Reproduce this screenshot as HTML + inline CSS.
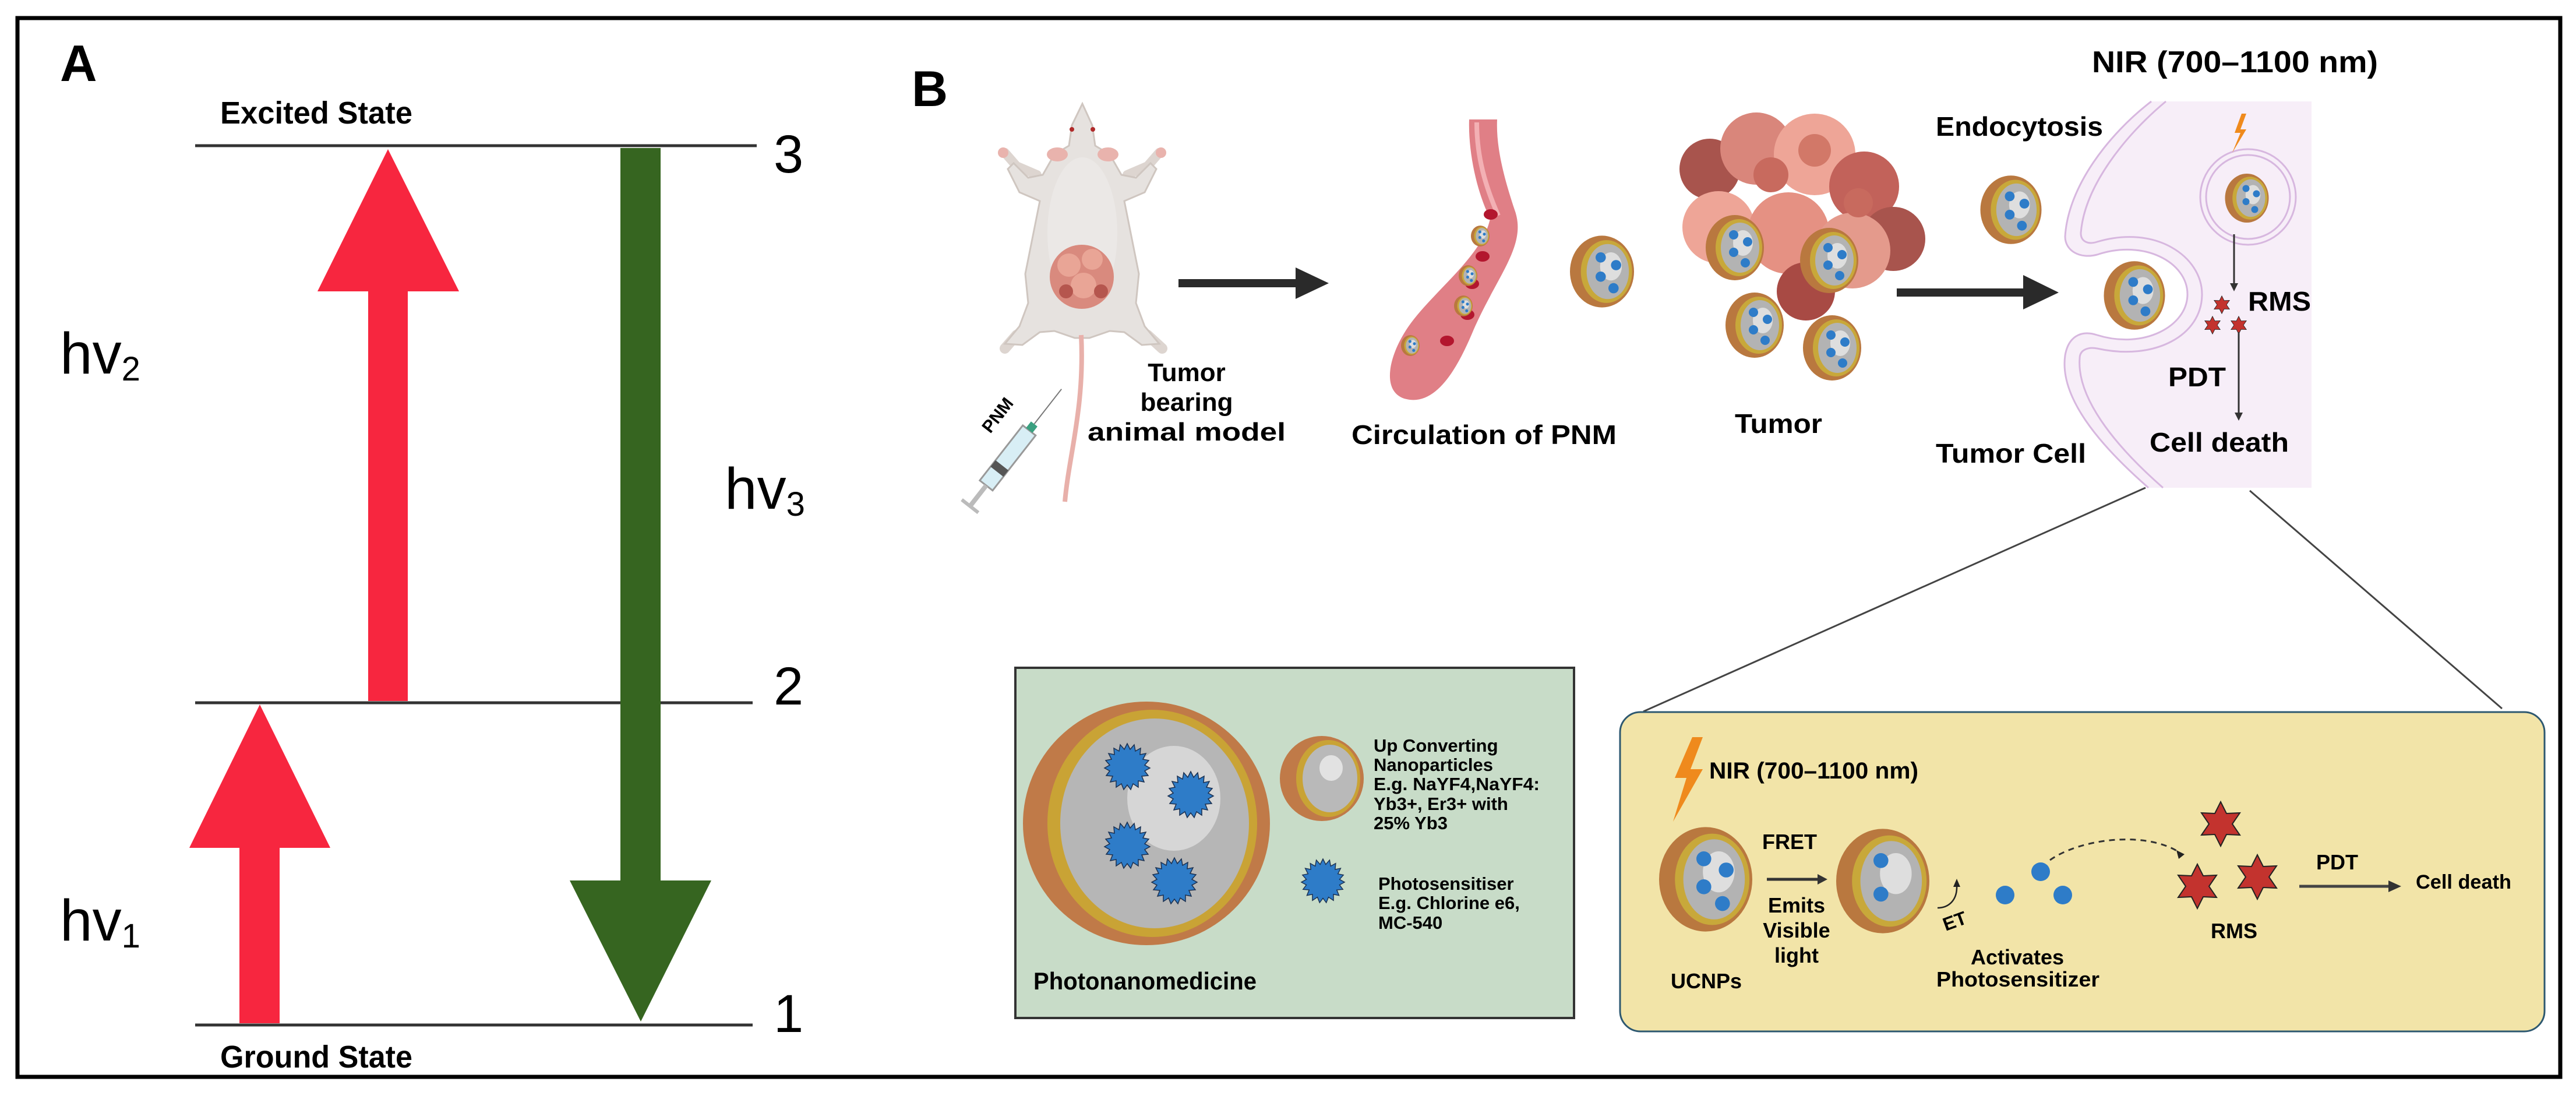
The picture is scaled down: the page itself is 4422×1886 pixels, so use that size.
<!DOCTYPE html>
<html><head><meta charset="utf-8"><style>
html,body{margin:0;padding:0;background:#fff}
svg{display:block}
text{font-family:"Liberation Sans",sans-serif}
.b{font-weight:bold}
</style></head><body>
<svg width="4422" height="1886" viewBox="0 0 4422 1886" xmlns="http://www.w3.org/2000/svg">
<defs>
<g id="np">
<ellipse rx="50" ry="56" fill="#b9783f"/>
<ellipse cx="7" rx="40" ry="49" fill="#c8a83a"/>
<ellipse cx="9" rx="33" ry="43" fill="#b3b3b3"/>
<ellipse cx="14" cy="-8" rx="17" ry="22" fill="#dedede"/>
<circle cx="-2" cy="-22" r="8" fill="#2e7cc8"/>
<circle cx="22" cy="-10" r="8" fill="#2e7cc8"/>
<circle cx="-2" cy="8" r="8" fill="#2e7cc8"/>
<circle cx="18" cy="26" r="8" fill="#2e7cc8"/>
</g>
<polygon id="star" points="0,-38 10,-18 33,-19 20,0 33,19 10,18 0,38 -10,18 -33,19 -20,0 -33,-19 -10,-18" fill="#c3332e" stroke="#222" stroke-width="2"/>
<polygon id="spk" points="0,-40 5,-30 12,-38 14,-27 23,-32 22,-21 32,-23 27,-13 37,-11 30,-3 39,2 30,7 36,15 25,16 29,26 19,24 19,35 10,29 6,39 0,31 -6,39 -10,29 -19,35 -19,24 -29,26 -25,16 -36,15 -30,7 -39,2 -30,-3 -37,-11 -27,-13 -32,-23 -22,-21 -23,-32 -14,-27 -12,-38 -5,-30" fill="#2e7cc8" stroke="#1b3050" stroke-width="1.5"/>
</defs>

<rect x="30" y="31" width="4365" height="1817" fill="none" stroke="#000" stroke-width="7"/>

<!-- ===== Panel A ===== -->
<text x="103" y="139" class="b" font-size="88">A</text>
<text x="378" y="212" class="b" font-size="54" textLength="330" lengthAdjust="spacingAndGlyphs">Excited  State</text>
<text x="378" y="1832" class="b" font-size="54" textLength="330" lengthAdjust="spacingAndGlyphs">Ground  State</text>
<line x1="335" y1="250" x2="1299" y2="250" stroke="#333" stroke-width="5"/>
<line x1="335" y1="1206" x2="1292" y2="1206" stroke="#333" stroke-width="5"/>
<line x1="335" y1="1759" x2="1292" y2="1759" stroke="#333" stroke-width="5"/>
<text x="1328" y="296" font-size="92">3</text>
<text x="1328" y="1209" font-size="92">2</text>
<text x="1328" y="1771" font-size="92">1</text>
<polygon points="632,1203 632,500 545,500 666,256 788,500 700,500 700,1203" fill="#f7263f"/>
<polygon points="411,1756 411,1455 325,1455 446,1209 567,1455 480,1455 480,1756" fill="#f7263f"/>
<polygon points="1065,254 1134,254 1134,1511 1221,1511 1100,1753 978,1511 1065,1511" fill="#366520"/>
<text x="103" y="641" font-size="100">hv<tspan font-size="58" dy="12">2</tspan></text>
<text x="1244" y="873" font-size="100">hv<tspan font-size="58" dy="12">3</tspan></text>
<text x="103" y="1614" font-size="100">hv<tspan font-size="58" dy="12">1</tspan></text>

<!-- ===== Panel B ===== -->
<text x="1565" y="182" class="b" font-size="86">B</text>

<!-- mouse -->
<g>
<path d="M1780,300 L1745,285 L1725,262" fill="none" stroke="#ddd5d0" stroke-width="16" stroke-linecap="round"/>
<path d="M1935,300 L1970,285 L1990,262" fill="none" stroke="#ddd5d0" stroke-width="16" stroke-linecap="round"/>
<path d="M1780,555 L1745,575 L1725,598" fill="none" stroke="#ddd5d0" stroke-width="18" stroke-linecap="round"/>
<path d="M1935,555 L1970,575 L1995,598" fill="none" stroke="#ddd5d0" stroke-width="18" stroke-linecap="round"/>
<circle cx="1722" cy="262" r="9" fill="#e9b3ad"/>
<circle cx="1993" cy="262" r="9" fill="#e9b3ad"/>
<path d="M1858,178 L1875,215 L1880,250 L1905,265 L1925,300 L1950,305 L1975,280 L1985,290 L1965,330 L1930,345 L1945,420 L1955,470 L1950,520 L1965,560 L1990,590 L1960,592 L1930,570 L1905,568 L1870,580 L1845,580 L1810,568 L1785,570 L1755,592 L1725,590 L1750,560 L1765,520 L1760,470 L1770,420 L1785,345 L1750,330 L1730,290 L1740,280 L1765,305 L1790,300 L1810,265 L1835,250 L1840,215 Z" fill="#e6e2df" stroke="#cfc6c0" stroke-width="3"/>
<ellipse cx="1858" cy="400" rx="60" ry="130" fill="#ebe8e6"/>
<ellipse cx="1815" cy="265" rx="18" ry="12" fill="#e9b3ad"/>
<ellipse cx="1902" cy="265" rx="18" ry="12" fill="#e9b3ad"/>
<circle cx="1840" cy="222" r="4" fill="#b02a2a"/>
<circle cx="1876" cy="222" r="4" fill="#b02a2a"/>
<circle cx="1857" cy="475" r="55" fill="#d98a7e"/>
<circle cx="1835" cy="455" r="20" fill="#e9a596"/>
<circle cx="1875" cy="445" r="18" fill="#e9a596"/>
<circle cx="1860" cy="490" r="22" fill="#e9a596"/>
<circle cx="1830" cy="500" r="12" fill="#b5564e"/>
<circle cx="1890" cy="500" r="12" fill="#b5564e"/>
<path d="M1856,575 C1862,700 1835,780 1828,861" fill="none" stroke="#e8b0aa" stroke-width="8"/>
</g>
<g transform="translate(1736,778) rotate(-52)">
<rect x="-70" y="-14" width="120" height="28" fill="#d8eef5" stroke="#999" stroke-width="3"/>
<rect x="-40" y="-14" width="14" height="28" fill="#555"/>
<rect x="50" y="-7" width="14" height="14" fill="#3aa080"/>
<line x1="64" y1="0" x2="140" y2="0" stroke="#777" stroke-width="2"/>
<line x1="-70" y1="0" x2="-115" y2="0" stroke="#bbb" stroke-width="8"/>
<line x1="-115" y1="-18" x2="-115" y2="18" stroke="#bbb" stroke-width="6"/>
</g>
<text transform="translate(1700,745) rotate(-52)" class="b" font-size="30">PNM</text>
<text x="2037" y="654" class="b" font-size="44" text-anchor="middle">Tumor</text>
<text x="2037" y="705" class="b" font-size="44" text-anchor="middle">bearing</text>
<text x="2037" y="756" class="b" font-size="44" text-anchor="middle" textLength="340" lengthAdjust="spacingAndGlyphs">animal  model</text>

<rect x="2023" y="479" width="205" height="14" fill="#2a2a2a"/>
<polygon points="2224,459 2281,486 2224,513" fill="#2a2a2a"/>

<!-- blood vessel -->
<path d="M2522,205 C2520,260 2535,330 2558,375 C2545,440 2460,500 2418,560 C2380,615 2370,680 2420,686 C2470,692 2505,625 2530,565 C2572,470 2622,420 2600,360 C2580,300 2568,250 2570,205 Z" fill="#e07f86"/>
<path d="M2535,210 C2535,270 2550,320 2572,370" fill="none" stroke="#f3b0b4" stroke-width="8"/>
<ellipse cx="2559" cy="368" rx="12" ry="9" fill="#b3162e"/>
<ellipse cx="2545" cy="440" rx="12" ry="9" fill="#b3162e"/>
<ellipse cx="2527" cy="487" rx="12" ry="9" fill="#b3162e"/>
<ellipse cx="2519" cy="540" rx="12" ry="9" fill="#b3162e"/>
<ellipse cx="2484" cy="585" rx="12" ry="9" fill="#b3162e"/>
<use href="#np" transform="translate(2541,405) scale(0.32)"/>
<use href="#np" transform="translate(2520,473) scale(0.32)"/>
<use href="#np" transform="translate(2512,525) scale(0.32)"/>
<use href="#np" transform="translate(2421,593) scale(0.32)"/>
<text x="2320" y="762" class="b" font-size="46" textLength="455" lengthAdjust="spacingAndGlyphs">Circulation of PNM</text>

<use href="#np" transform="translate(2750,466) scale(1.1)"/>

<g>
<circle cx="2935" cy="290" r="52" fill="#a8544d"/>
<circle cx="3015" cy="255" r="62" fill="#d9867b"/>
<circle cx="3115" cy="265" r="70" fill="#eea597"/>
<circle cx="3200" cy="320" r="60" fill="#c2625a"/>
<circle cx="3250" cy="410" r="55" fill="#a8544d"/>
<circle cx="2950" cy="390" r="62" fill="#eea597"/>
<circle cx="3070" cy="400" r="70" fill="#e59183"/>
<circle cx="3180" cy="430" r="65" fill="#e49a8c"/>
<circle cx="3100" cy="500" r="50" fill="#a84a44"/>
<circle cx="3040" cy="300" r="30" fill="#c86a5e"/>
<circle cx="3115" cy="258" r="28" fill="#d27868"/>
<circle cx="3190" cy="348" r="25" fill="#c86a5e"/>
</g>
<use href="#np" transform="translate(2978,425) scale(1)"/>
<use href="#np" transform="translate(3140,447) scale(1)"/>
<use href="#np" transform="translate(3012,558) scale(1)"/>
<use href="#np" transform="translate(3145,597) scale(1)"/>
<text x="2978" y="743" class="b" font-size="46" textLength="150" lengthAdjust="spacingAndGlyphs">Tumor</text>

<rect x="3256" y="495" width="220" height="14" fill="#2a2a2a"/>
<polygon points="3473,472 3534,502 3473,531" fill="#2a2a2a"/>
<text x="3323" y="233" class="b" font-size="46" textLength="287" lengthAdjust="spacingAndGlyphs">Endocytosis</text>
<text x="3323" y="794" class="b" font-size="46" textLength="258" lengthAdjust="spacingAndGlyphs">Tumor Cell</text>
<use href="#np" transform="translate(3452,360) scale(1.05)"/>

<path d="M3693,174 L3968,174 L3968,837 L3688,837 C3600,760 3535,680 3545,610 C3550,580 3570,565 3600,575 C3680,600 3755,560 3755,505 C3755,450 3680,410 3600,437 C3570,445 3545,430 3545,406 C3550,320 3620,230 3693,174 Z" fill="#f7eef8"/>
<path d="M3693,174 C3620,230 3550,320 3545,406 C3545,430 3570,445 3600,437 C3680,410 3755,450 3755,505 C3755,560 3680,600 3600,575 C3570,565 3550,580 3545,610 C3535,680 3600,760 3688,837" fill="none" stroke="#d7b7df" stroke-width="3"/>
<path d="M3718,174 C3648,232 3578,320 3572,400 C3572,415 3585,420 3600,415 C3700,385 3780,440 3780,505 C3780,575 3700,620 3600,598 C3585,595 3570,600 3570,615 C3565,680 3625,760 3713,837" fill="none" stroke="#d7b7df" stroke-width="3"/>
<use href="#np" transform="translate(3664,507) scale(1.05)"/>
<circle cx="3859" cy="338" r="82" fill="none" stroke="#d7b7df" stroke-width="3"/>
<circle cx="3859" cy="338" r="72" fill="none" stroke="#d7b7df" stroke-width="3"/>
<use href="#np" transform="translate(3857,340) scale(0.75)"/>
<polygon points="3848,195 3836,228 3846,228 3832,262 3856,222 3846,222 3856,195" fill="#ef8a1d"/>
<line x1="3835" y1="402" x2="3835" y2="488" stroke="#333" stroke-width="3"/>
<polygon points="3828,486 3842,486 3835,500" fill="#333"/>
<use href="#star" transform="translate(3814,523) scale(0.4)"/>
<use href="#star" transform="translate(3798,558) scale(0.4)"/>
<use href="#star" transform="translate(3843,558) scale(0.4)"/>
<line x1="3843" y1="570" x2="3843" y2="710" stroke="#333" stroke-width="3"/>
<polygon points="3836,708 3850,708 3843,722" fill="#333"/>
<text x="3859" y="533" class="b" font-size="46" textLength="108" lengthAdjust="spacingAndGlyphs">RMS</text>
<text x="3722" y="663" class="b" font-size="46" textLength="99" lengthAdjust="spacingAndGlyphs">PDT</text>
<text x="3690" y="775" class="b" font-size="46" textLength="239" lengthAdjust="spacingAndGlyphs">Cell death</text>
<text x="3591" y="124" class="b" font-size="52" textLength="491" lengthAdjust="spacingAndGlyphs">NIR  (700–1100 nm)</text>

<line x1="3683" y1="837" x2="2821" y2="1221" stroke="#444" stroke-width="3"/>
<line x1="3862" y1="842" x2="4295" y2="1216" stroke="#444" stroke-width="3"/>

<rect x="1743" y="1146" width="959" height="601" fill="#c8dcc8" stroke="#333" stroke-width="4"/>
<ellipse cx="1968" cy="1413" rx="212" ry="209" fill="#c07a48"/>
<ellipse cx="1978" cy="1413" rx="180" ry="195" fill="#c9a335"/>
<ellipse cx="1982" cy="1413" rx="162" ry="180" fill="#b6b6b6"/>
<ellipse cx="2015" cy="1370" rx="80" ry="90" fill="#d6d6d6"/>
<use href="#spk" transform="translate(1935,1316)"/>
<use href="#spk" transform="translate(2044,1364)"/>
<use href="#spk" transform="translate(1935,1451)"/>
<use href="#spk" transform="translate(2016,1512)"/>
<ellipse cx="2269" cy="1336" rx="72" ry="73" fill="#c07a48"/>
<ellipse cx="2280" cy="1336" rx="55" ry="66" fill="#c9a335"/>
<ellipse cx="2283" cy="1336" rx="47" ry="58" fill="#b9b9b9"/>
<ellipse cx="2285" cy="1318" rx="20" ry="22" fill="#e2e2e2"/>
<use href="#spk" transform="translate(2271,1512) scale(0.95)"/>
<g class="b" font-size="31">
<text x="2358" y="1290">Up Converting</text>
<text x="2358" y="1323">Nanoparticles</text>
<text x="2358" y="1356" textLength="285" lengthAdjust="spacingAndGlyphs">E.g. NaYF4,NaYF4:</text>
<text x="2358" y="1390">Yb3+, Er3+ with</text>
<text x="2358" y="1423">25% Yb3</text>
<text x="2366" y="1527">Photosensitiser</text>
<text x="2366" y="1560">E.g. Chlorine e6,</text>
<text x="2366" y="1594">MC-540</text>
</g>
<text x="1774" y="1698" class="b" font-size="42" textLength="383" lengthAdjust="spacingAndGlyphs">Photonanomedicine</text>

<rect x="2781" y="1222" width="1587" height="548" rx="35" fill="#f2e4a8" stroke="#2d5870" stroke-width="3"/>
<polygon points="2905,1265 2875,1335 2895,1335 2872,1410 2923,1320 2902,1320 2923,1265" fill="#ef8a1d"/>
<text x="2934" y="1336" class="b" font-size="40" textLength="359" lengthAdjust="spacingAndGlyphs">NIR  (700–1100 nm)</text>
<use href="#np" transform="translate(2928,1509) scale(1.6)"/>
<g transform="translate(3232,1512) scale(1.6)">
<ellipse rx="50" ry="56" fill="#b9783f"/>
<ellipse cx="7" rx="40" ry="49" fill="#c8a83a"/>
<ellipse cx="9" rx="33" ry="43" fill="#b3b3b3"/>
<ellipse cx="14" cy="-8" rx="17" ry="22" fill="#dedede"/>
<circle cx="-2" cy="-22" r="8" fill="#2e7cc8"/>
<circle cx="-2" cy="14" r="8" fill="#2e7cc8"/>
</g>
<text x="3025" y="1457" class="b" font-size="36">FRET</text>
<line x1="3033" y1="1509" x2="3125" y2="1509" stroke="#333" stroke-width="5"/>
<polygon points="3120,1500 3137,1509 3120,1518" fill="#333"/>
<text x="3084" y="1566" class="b" font-size="36" text-anchor="middle">Emits</text>
<text x="3084" y="1609" class="b" font-size="36" text-anchor="middle">Visible</text>
<text x="3084" y="1652" class="b" font-size="36" text-anchor="middle">light</text>
<text x="2868" y="1696" class="b" font-size="36">UCNPs</text>
<path d="M3326,1558 C3345,1558 3360,1545 3359,1520" fill="none" stroke="#222" stroke-width="2.5"/>
<polygon points="3353,1522 3365,1522 3359,1508" fill="#222"/>
<text transform="translate(3340,1598) rotate(-20)" class="b" font-size="32">ET</text>
<circle cx="3442" cy="1536" r="16" fill="#2e7cc8"/>
<circle cx="3503" cy="1496" r="16" fill="#2e7cc8"/>
<circle cx="3541" cy="1536" r="16" fill="#2e7cc8"/>
<path d="M3519,1476 C3570,1440 3680,1425 3740,1462" fill="none" stroke="#333" stroke-width="3" stroke-dasharray="10,8"/>
<polygon points="3736,1459 3750,1466 3740,1474" fill="#222"/>
<use href="#star" transform="translate(3812,1414)"/>
<use href="#star" transform="translate(3772,1521)"/>
<use href="#star" transform="translate(3875,1505)"/>
<text x="3835" y="1610" class="b" font-size="36" text-anchor="middle">RMS</text>
<text x="3463" y="1655" class="b" font-size="36" text-anchor="middle">Activates</text>
<text x="3324" y="1693" class="b" font-size="36" textLength="280" lengthAdjust="spacingAndGlyphs">Photosensitizer</text>
<text x="3976" y="1492" class="b" font-size="36">PDT</text>
<line x1="3947" y1="1521" x2="4105" y2="1521" stroke="#444" stroke-width="5"/>
<polygon points="4100,1511 4122,1521 4100,1531" fill="#333"/>
<text x="4147" y="1525" class="b" font-size="34" textLength="164" lengthAdjust="spacingAndGlyphs">Cell death</text>
</svg>
</body></html>
